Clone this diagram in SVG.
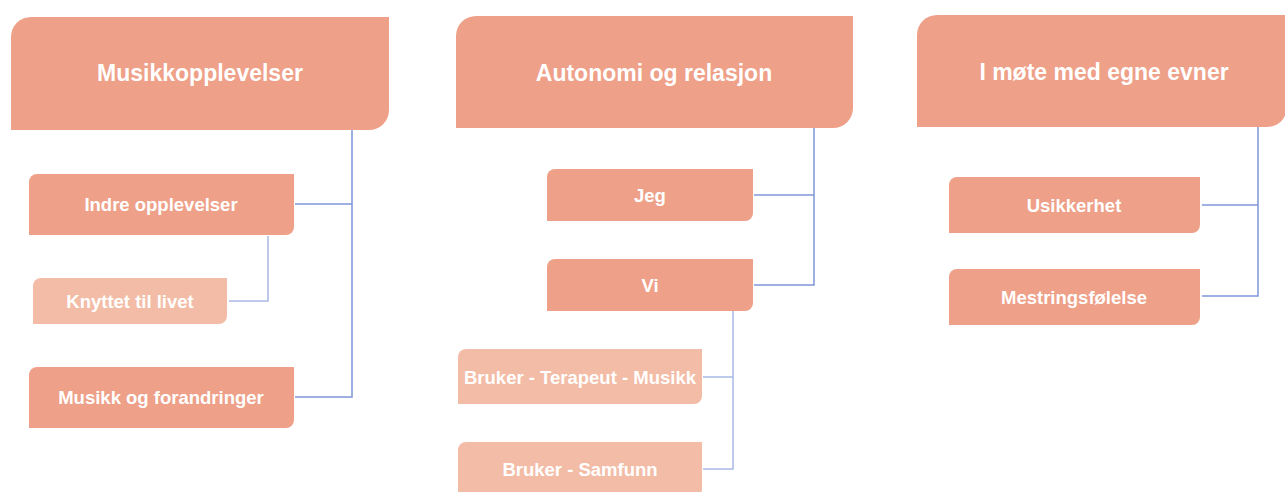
<svg xmlns="http://www.w3.org/2000/svg" width="1285" height="492" viewBox="0 0 1285 492">
<style>
.dark{fill:#EEA088;}
.light{fill:#F3BCA6;}
.conn{fill:none;stroke:#7F97D8;stroke-width:1.5;}
.conn2{fill:none;stroke:#A9B8E6;stroke-width:1.5;}
.h{font-family:"Liberation Sans",Arial,sans-serif;font-weight:bold;font-size:23px;fill:#FFFFFF;text-anchor:middle;dominant-baseline:central;}
.t{font-family:"Liberation Sans",Arial,sans-serif;font-weight:bold;font-size:18.5px;fill:#FFFFFF;text-anchor:middle;dominant-baseline:central;}
</style>
<rect width="1285" height="492" fill="#FFFFFF"/>
<g id="connectors">
<polyline class="conn" points="352,130 352,397 295,397"/>
<line class="conn" x1="295" y1="204" x2="352" y2="204"/>
<polyline class="conn2" points="268,236 268,301 229,301"/>
<polyline class="conn" points="814,128 814,285 754,285"/>
<line class="conn" x1="754" y1="195" x2="814" y2="195"/>
<polyline class="conn2" points="733,311 733,469 703,469"/>
<line class="conn2" x1="703" y1="377" x2="733" y2="377"/>
<polyline class="conn" points="1258,127 1258,296 1202,296"/>
<line class="conn" x1="1202" y1="205" x2="1258" y2="205"/>
</g>
<g id="h1"><path class="dark" d="M31,17 H389 V110 A20,20 0 0 1 369,130 H11 V37 A20,20 0 0 1 31,17 Z"/><text class="h" x="200" y="73">Musikkopplevelser</text></g>
<g id="n_indre"><path class="dark" d="M37,174 H294 V227 A8,8 0 0 1 286,235 H29 V182 A8,8 0 0 1 37,174 Z"/><text class="t" x="161" y="204">Indre opplevelser</text></g>
<g id="n_knyttet"><path class="light" d="M41,278 H227 V316 A8,8 0 0 1 219,324 H33 V286 A8,8 0 0 1 41,278 Z"/><text class="t" x="130" y="301">Knyttet til livet</text></g>
<g id="n_musikk"><path class="dark" d="M37,367 H294 V420 A8,8 0 0 1 286,428 H29 V375 A8,8 0 0 1 37,367 Z"/><text class="t" x="161" y="397">Musikk og forandringer</text></g>
<g id="h2"><path class="dark" d="M476,16 H853 V108 A20,20 0 0 1 833,128 H456 V36 A20,20 0 0 1 476,16 Z"/><text class="h" x="654" y="73">Autonomi og relasjon</text></g>
<g id="n_jeg"><path class="dark" d="M555,169 H753 V213 A8,8 0 0 1 745,221 H547 V177 A8,8 0 0 1 555,169 Z"/><text class="t" x="650" y="195">Jeg</text></g>
<g id="n_vi"><path class="dark" d="M555,259 H753 V303 A8,8 0 0 1 745,311 H547 V267 A8,8 0 0 1 555,259 Z"/><text class="t" x="650" y="285">Vi</text></g>
<g id="n_btm"><path class="light" d="M466,349 H702 V396 A8,8 0 0 1 694,404 H458 V357 A8,8 0 0 1 466,349 Z"/><text class="t" x="580" y="377">Bruker - Terapeut - Musikk</text></g>
<g id="n_bs"><path class="light" d="M466,442 H702 V489 A8,8 0 0 1 694,497 H458 V450 A8,8 0 0 1 466,442 Z"/><text class="t" x="580" y="469">Bruker - Samfunn</text></g>
<g id="h3"><path class="dark" d="M937,15 H1287 V107 A20,20 0 0 1 1267,127 H917 V35 A20,20 0 0 1 937,15 Z"/><text class="h" x="1104" y="72">I møte med egne evner</text></g>
<g id="n_usik"><path class="dark" d="M957,177 H1200 V225 A8,8 0 0 1 1192,233 H949 V185 A8,8 0 0 1 957,177 Z"/><text class="t" x="1074" y="205">Usikkerhet</text></g>
<g id="n_mest"><path class="dark" d="M957,269 H1200 V317 A8,8 0 0 1 1192,325 H949 V277 A8,8 0 0 1 957,269 Z"/><text class="t" x="1074" y="297">Mestringsfølelse</text></g>
</svg>
